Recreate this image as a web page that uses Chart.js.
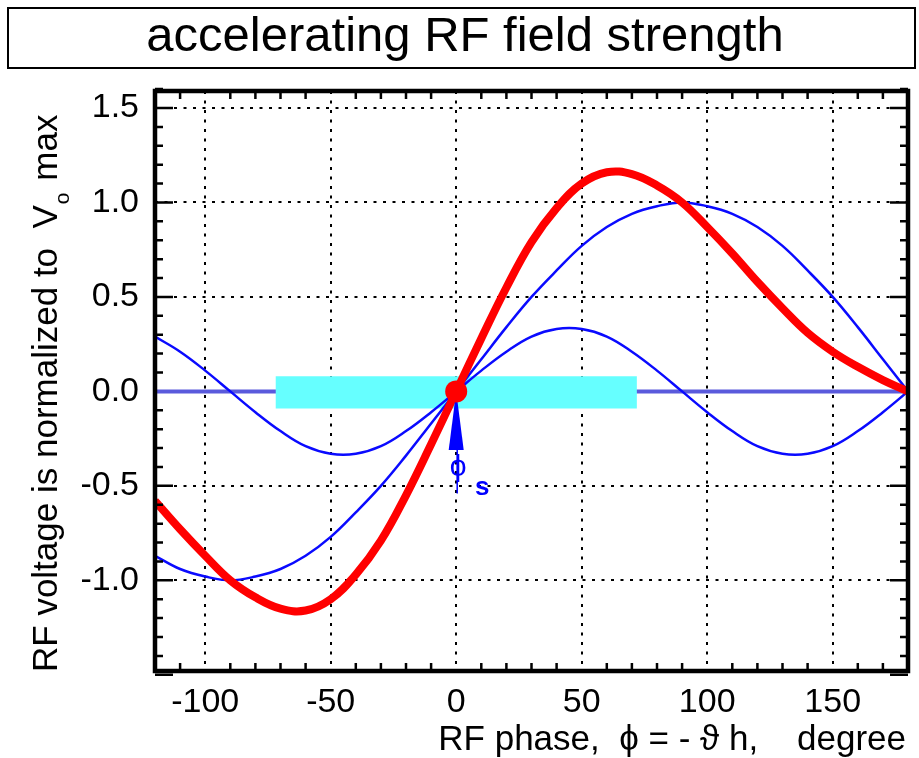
<!DOCTYPE html>
<html>
<head>
<meta charset="utf-8">
<script src="https://cdn.jsdelivr.net/npm/chart.js@4.4.1/dist/chart.umd.min.js"></script>
<style>
  html, body { margin: 0; padding: 0; background: #fff; }
</style>
</head>
<body>
<canvas id="rf" width="919" height="758"></canvas>
<script>
// RF phase, degree
const phase = [-120, -110, -100, -90, -80, -70, -60, -50, -40, -30, -20, -10, 0,
  10, 20, 30, 40, 50, 60, 70, 80, 90, 100, 110, 120, 130, 140, 150, 160, 170, 180];
// fundamental, normalized to Vo max
const fundamental = [-0.87, -0.94, -0.98, -1.00, -0.98, -0.94, -0.87, -0.77, -0.64, -0.50, -0.34, -0.17, 0,
  0.17, 0.34, 0.50, 0.64, 0.77, 0.87, 0.94, 0.98, 1.00, 0.98, 0.94, 0.87, 0.77, 0.64, 0.50, 0.34, 0.17, 0];
// second harmonic
const harmonic = [0.29, 0.21, 0.11, 0, -0.11, -0.21, -0.29, -0.33, -0.33, -0.29, -0.21, -0.11, 0,
  0.11, 0.21, 0.29, 0.33, 0.33, 0.29, 0.21, 0.11, 0, -0.11, -0.21, -0.29, -0.33, -0.33, -0.29, -0.21, -0.11, 0];
// accelerating field (sum)
const totalField = [-0.58, -0.73, -0.87, -1.00, -1.09, -1.15, -1.16, -1.10, -0.97, -0.79, -0.55, -0.28, 0,
  0.28, 0.55, 0.79, 0.97, 1.10, 1.16, 1.15, 1.09, 1.00, 0.87, 0.73, 0.58, 0.44, 0.31, 0.21, 0.13, 0.06, 0];

const xTicks = [-100, -50, 0, 50, 100, 150];
const yTicks = [-1.0, -0.5, 0.0, 0.5, 1.0, 1.5];
const bucketPhase = [-72, 72];
const bucketLevel = [-0.09, 0.08];
const syncPhase = 0;
const arrowLevels = [0.0, -0.31, -0.54]; // tip, base, stem end

const FONT = '"Liberation Sans", Arial, Helvetica, sans-serif';

const toPts = (ys) => phase.map((x, i) => ({ x, y: ys[i] }));

const framePlugin = {
  id: 'frame',
  beforeDraw(chart) {
    const { ctx } = chart;
    ctx.save();
    ctx.fillStyle = '#fff';
    ctx.fillRect(0, 0, chart.width, chart.height);
    // title box
    ctx.strokeStyle = '#000';
    ctx.lineWidth = 2;
    ctx.strokeRect(8, 8, 907, 60);
    ctx.fillStyle = '#000';
    ctx.font = `49px ${FONT}`;
    ctx.textAlign = 'center';
    ctx.textBaseline = 'alphabetic';
    ctx.fillText('accelerating RF field strength', 465, 51);
    ctx.restore();
  },
  beforeDatasetDraw(chart, args) {
    if (args.index !== 0) return;
    // arrow pointing at the synchronous phase
    const { ctx, scales: { x, y } } = chart;
    const px = x.getPixelForValue(syncPhase);
    const tip = y.getPixelForValue(arrowLevels[0]);
    const base = y.getPixelForValue(arrowLevels[1]);
    const stem = y.getPixelForValue(arrowLevels[2]);
    ctx.save();
    ctx.fillStyle = '#0000ff';
    ctx.strokeStyle = '#0000ff';
    ctx.beginPath();
    ctx.moveTo(px, tip);
    ctx.lineTo(px - 7.5, base);
    ctx.lineTo(px + 7.5, base);
    ctx.closePath();
    ctx.fill();
    ctx.lineWidth = 1.5;
    ctx.beginPath();
    ctx.moveTo(px + 1, base);
    ctx.lineTo(px + 1, stem);
    ctx.stroke();
    ctx.font = `30px ${FONT}`;
    ctx.textAlign = 'center';
    ctx.textBaseline = 'alphabetic';
    ctx.fillText('\u03D5', px + 2, base + 26);
    ctx.font = `bold 26px ${FONT}`;
    ctx.fillText('s', px + 26, base + 45);
    ctx.restore();
  },
  afterDatasetsDraw(chart) {
    const { ctx, chartArea: a, scales: { x, y } } = chart;
    ctx.save();
    ctx.strokeStyle = '#000';
    ctx.lineWidth = 2.5;
    ctx.beginPath();
    for (let v = -120; v <= 180; v += 10) {
      if (v % 50 === 0) continue;
      const px = x.getPixelForValue(v);
      ctx.moveTo(px, a.top); ctx.lineTo(px, a.top + 8);
      ctx.moveTo(px, a.bottom); ctx.lineTo(px, a.bottom - 8);
    }
    for (let k = -15; k <= 16; k++) {
      if (k === 0) continue;
      const py = y.getPixelForValue(k / 10);
      const len = k % 5 === 0 ? 18 : 8;
      ctx.moveTo(a.left, py); ctx.lineTo(a.left + len, py);
      ctx.moveTo(a.right, py); ctx.lineTo(a.right - len, py);
    }
    ctx.stroke();
    ctx.lineWidth = 4.5;
    ctx.strokeRect(a.left, a.top, a.right - a.left, a.bottom - a.top);
    ctx.restore();
  },
  afterDraw(chart) {
    const { ctx } = chart;
    ctx.save();
    ctx.fillStyle = '#000';
    ctx.font = `35px ${FONT}`;
    ctx.textAlign = 'right';
    ctx.textBaseline = 'alphabetic';
    ctx.fillText('RF phase,  \u03D5 = - \u03D1 h,    degree', 906, 750);
    // y title, rotated, with subscript
    ctx.translate(57, 672);
    ctx.rotate(-Math.PI / 2);
    ctx.textAlign = 'left';
    const main = 'RF voltage is normalized to  V';
    ctx.fillText(main, 0, 0);
    let w = ctx.measureText(main).width;
    ctx.font = `21px ${FONT}`;
    ctx.fillText('o', w + 1, 12);
    w += ctx.measureText('o').width + 3;
    ctx.font = `35px ${FONT}`;
    ctx.fillText(' max', w, 0);
    ctx.restore();
  },
};

new Chart(document.getElementById('rf'), {
  type: 'line',
  plugins: [framePlugin],
  data: {
    datasets: [
      { data: [{ x: syncPhase, y: 0 }], showLine: false, pointRadius: 11,
        pointBackgroundColor: '#ff0000', pointBorderWidth: 0 },
      { data: toPts(totalField), borderColor: '#ff0000', borderWidth: 8, pointRadius: 0, tension: 0.4 },
      { data: toPts(fundamental), borderColor: '#0a0aff', borderWidth: 2.5, pointRadius: 0, tension: 0.4 },
      { data: toPts(harmonic), borderColor: '#0a0aff', borderWidth: 2.5, pointRadius: 0, tension: 0.4 },
      { data: bucketPhase.map((x) => ({ x, y: bucketLevel[1] })), borderWidth: 0, pointRadius: 0,
        backgroundColor: '#66ffff', fill: '+1' },
      { data: bucketPhase.map((x) => ({ x, y: bucketLevel[0] })), borderWidth: 0, pointRadius: 0 },
      { data: [{ x: -120, y: 0 }, { x: 180, y: 0 }], borderColor: '#5a5adc', borderWidth: 4, pointRadius: 0 },
    ],
  },
  options: {
    responsive: false,
    animation: false,
    events: [],
    layout: { padding: { top: 91, right: 2, left: 0, bottom: 0 } },
    plugins: { legend: { display: false }, tooltip: { enabled: false } },
    scales: {
      x: {
        type: 'linear', min: -120, max: 180,
        afterBuildTicks: (s) => { s.ticks = xTicks.map((value) => ({ value })); },
        afterFit: (s) => { s.height = 87; },
        ticks: { color: '#000', font: { family: FONT, size: 34 }, padding: 11, maxRotation: 0, autoSkip: false },
        grid: { color: '#000', lineWidth: 2, drawTicks: false },
        border: { display: false, dash: [3, 6.5] },
      },
      y: {
        type: 'linear', min: -1.48, max: 1.59,
        afterBuildTicks: (s) => { s.ticks = yTicks.map((value) => ({ value })); },
        afterFit: (s) => { s.width = 155; },
        ticks: { color: '#000', font: { family: FONT, size: 34 }, padding: 16,
          callback: (v) => v.toFixed(1) },
        grid: { color: '#000', lineWidth: 2, drawTicks: false },
        border: { display: false, dash: [3, 6.5] },
      },
    },
  },
});
</script>
</body>
</html>
